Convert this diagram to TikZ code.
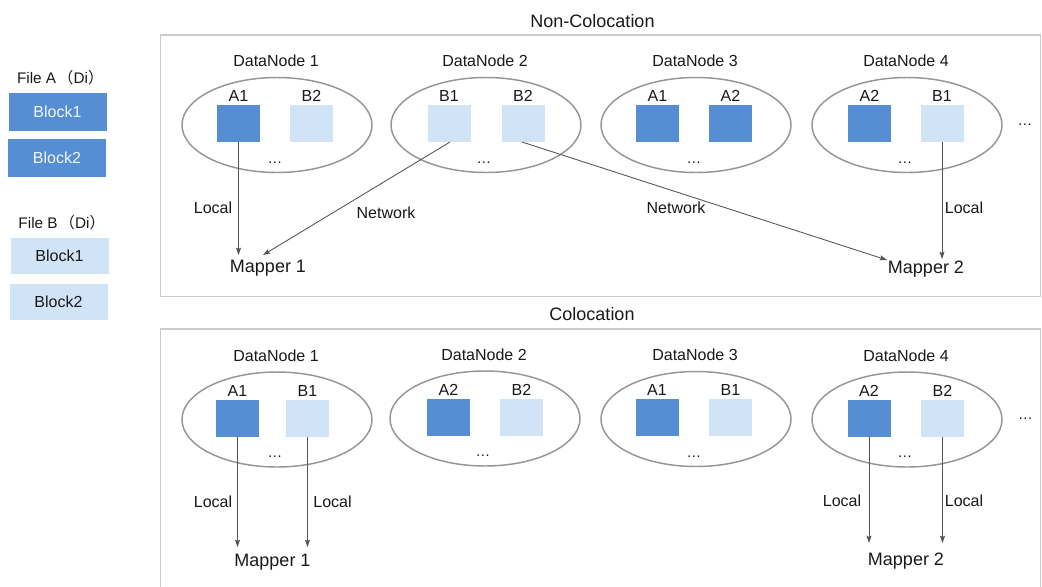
\documentclass[tikz,border=0pt]{standalone}
\usepackage{fontspec}
\setmainfont{Liberation Sans}
\newfontfamily\cjk{Noto Sans CJK SC}
\usetikzlibrary{shapes.geometric,arrows.meta}
\definecolor{dblue}{RGB}{86,142,211}
\definecolor{lblue}{RGB}{209,228,247}
\definecolor{txt}{RGB}{25,25,25}
\definecolor{ellgray}{RGB}{150,150,150}
\definecolor{panelgray}{RGB}{204,204,204}
\definecolor{arrgray}{RGB}{85,85,85}
\tikzset{
  lbl/.style={inner sep=0pt, outer sep=0pt, text height=0.716em, text depth=0pt, text=txt},
  ttl/.style={lbl, font=\fontsize{12}{14}\selectfont},
  big/.style={lbl, font=\fontsize{13.5}{16}\selectfont},
  small/.style={lbl, font=\fontsize{12}{14}\selectfont},
  dn/.style={ellipse, draw=ellgray, line width=1.1pt, minimum width=142.5pt, minimum height=71.25pt, inner sep=0pt, outer sep=0pt},
  sq/.style={rectangle, minimum width=32.25pt, minimum height=27.75pt, inner sep=0pt, outer sep=0pt},
  sqA1/.style={fill=dblue}, sqA2/.style={fill=dblue},
  sqB1/.style={fill=lblue}, sqB2/.style={fill=lblue},
  dotsty/.style={inner sep=0pt, outer sep=0pt, anchor=base, font=\fontsize{11}{13}\selectfont, text=txt},
  arr/.style={draw=arrgray, line width=0.65pt, -{Stealth[length=5.5pt, width=3.8pt, inset=1pt]}},
  panel/.style={draw=panelgray, line width=1.1pt},
  blockA/.style={rectangle, fill=dblue, minimum width=73.5pt, minimum height=28.5pt, inner sep=0pt, text=white!92!dblue, font=\fontsize{12}{14}\selectfont},
  blockB/.style={rectangle, fill=lblue, minimum width=73.5pt, minimum height=27pt, inner sep=0pt, text=txt, font=\fontsize{12}{14}\selectfont},
  legend/.style={lbl, anchor=west, font=\fontsize{11.5}{14}\selectfont},
}
% name, cx, cy, title, lx, llabel, rx, rlabel
\newcommand\mydnode[8]{%
  \node[dn] (#1) at (#2,#3) {};
  \node[ttl] (#1t) at ({#2-1},{#3-63}) {#4};
  \node[sq, sq#6] (#1l) at (#5,{#3-1.5}) {};
  \node[small] (#1la) at (#5,{#3-28}) {#6};
  \node[sq, sq#8] (#1r) at (#7,{#3-1.5}) {};
  \node[small] (#1ra) at (#7,{#3-28}) {#8};
  \node[dotsty] (#1d) at ({#2-2},{#3+38}) {…};
}
\begin{document}
\begin{tikzpicture}[x=0.75pt, y=-0.75pt]
\useasboundingbox (0,0) rectangle (1042,586);
\fill[white] (0,0) rectangle (1042,586);

% legend
\node[legend] (fa) at (17,79) {File A\hspace{1.5pt}{\cjk （}Di{\cjk ）}};
\node[blockA] (fa1) at (57.5,112) {Block1};
\node[blockA] (fa2) at (57,158) {Block2};
\node[legend] (fb) at (18.5,224) {File B\hspace{1.5pt}{\cjk （}Di{\cjk ）}};
\node[blockB] (fb1) at (59.5,256) {Block1};
\node[blockB] (fb2) at (58.5,302) {Block2};

% panels
\draw[panel] (160.7,35) rectangle (1040.7,296.7);
\draw[panel] (160.7,590) -- (160.7,329) -- (1040.7,329) -- (1040.7,590);
\node[big] (t1) at (592.5,22.5) {Non-Colocation};
\node[big] (t2) at (592,315.5) {Colocation};

% top panel
\mydnode{a}{277}{125}{DataNode 1}{238.5}{A1}{311.5}{B2}
\mydnode{b}{486}{125}{DataNode 2}{449}{B1}{523}{B2}
\mydnode{c}{696}{125}{DataNode 3}{657.5}{A1}{730.5}{A2}
\mydnode{d}{907}{125}{DataNode 4}{869.5}{A2}{942}{B1}
\node[dotsty] (topdots) at (1025,125) {…};

\node[big] (m1) at (268,267.5) {Mapper 1};
\node[big] (m2) at (926,268.5) {Mapper 2};
\coordinate (m1a) at (238.5,255);
\coordinate (m1b) at (263,255);
\coordinate (m2a) at (887,260);
\coordinate (m2b) at (942,259);
\draw[arr] (al.south) -- (m1a);
\draw[arr] ([xshift=0.75pt]bl.south) -- (m1b);
\draw[arr] ([xshift=-0.75pt]br.south) -- (m2a);
\draw[arr] (dr.south) -- (m2b);
\node[small] (l1) at (213,209) {Local};
\node[small] (n1) at (386,213.5) {Network};
\node[small] (n2) at (676,208.5) {Network};
\node[small] (l2) at (964,208.5) {Local};

% bottom panel
\mydnode{e}{277}{419.5}{DataNode 1}{237.5}{A1}{307.5}{B1}
\mydnode{f}{485}{418.5}{DataNode 2}{448.5}{A2}{521.5}{B2}
\mydnode{g}{696}{419}{DataNode 3}{657}{A1}{730.5}{B1}
\mydnode{h}{907}{419.5}{DataNode 4}{869}{A2}{942.5}{B2}
\node[dotsty] (botdots) at (1025.5,419) {…};

\node[big] (m3) at (272.5,561.5) {Mapper 1};
\node[big] (m4) at (906,560.5) {Mapper 2};
\coordinate (m3a) at (237.5,547);
\coordinate (m3b) at (307.5,547);
\coordinate (m4a) at (869,543);
\coordinate (m4b) at (942.5,543);
\draw[arr] (el.south) -- (m3a);
\draw[arr] (er.south) -- (m3b);
\draw[arr] (hl.south) -- (m4a);
\draw[arr] (hr.south) -- (m4b);
\node[small] (l3) at (213,502.5) {Local};
\node[small] (l4) at (332.5,502.5) {Local};
\node[small] (l5) at (842,502) {Local};
\node[small] (l6) at (964,502) {Local};
\end{tikzpicture}
\end{document}
